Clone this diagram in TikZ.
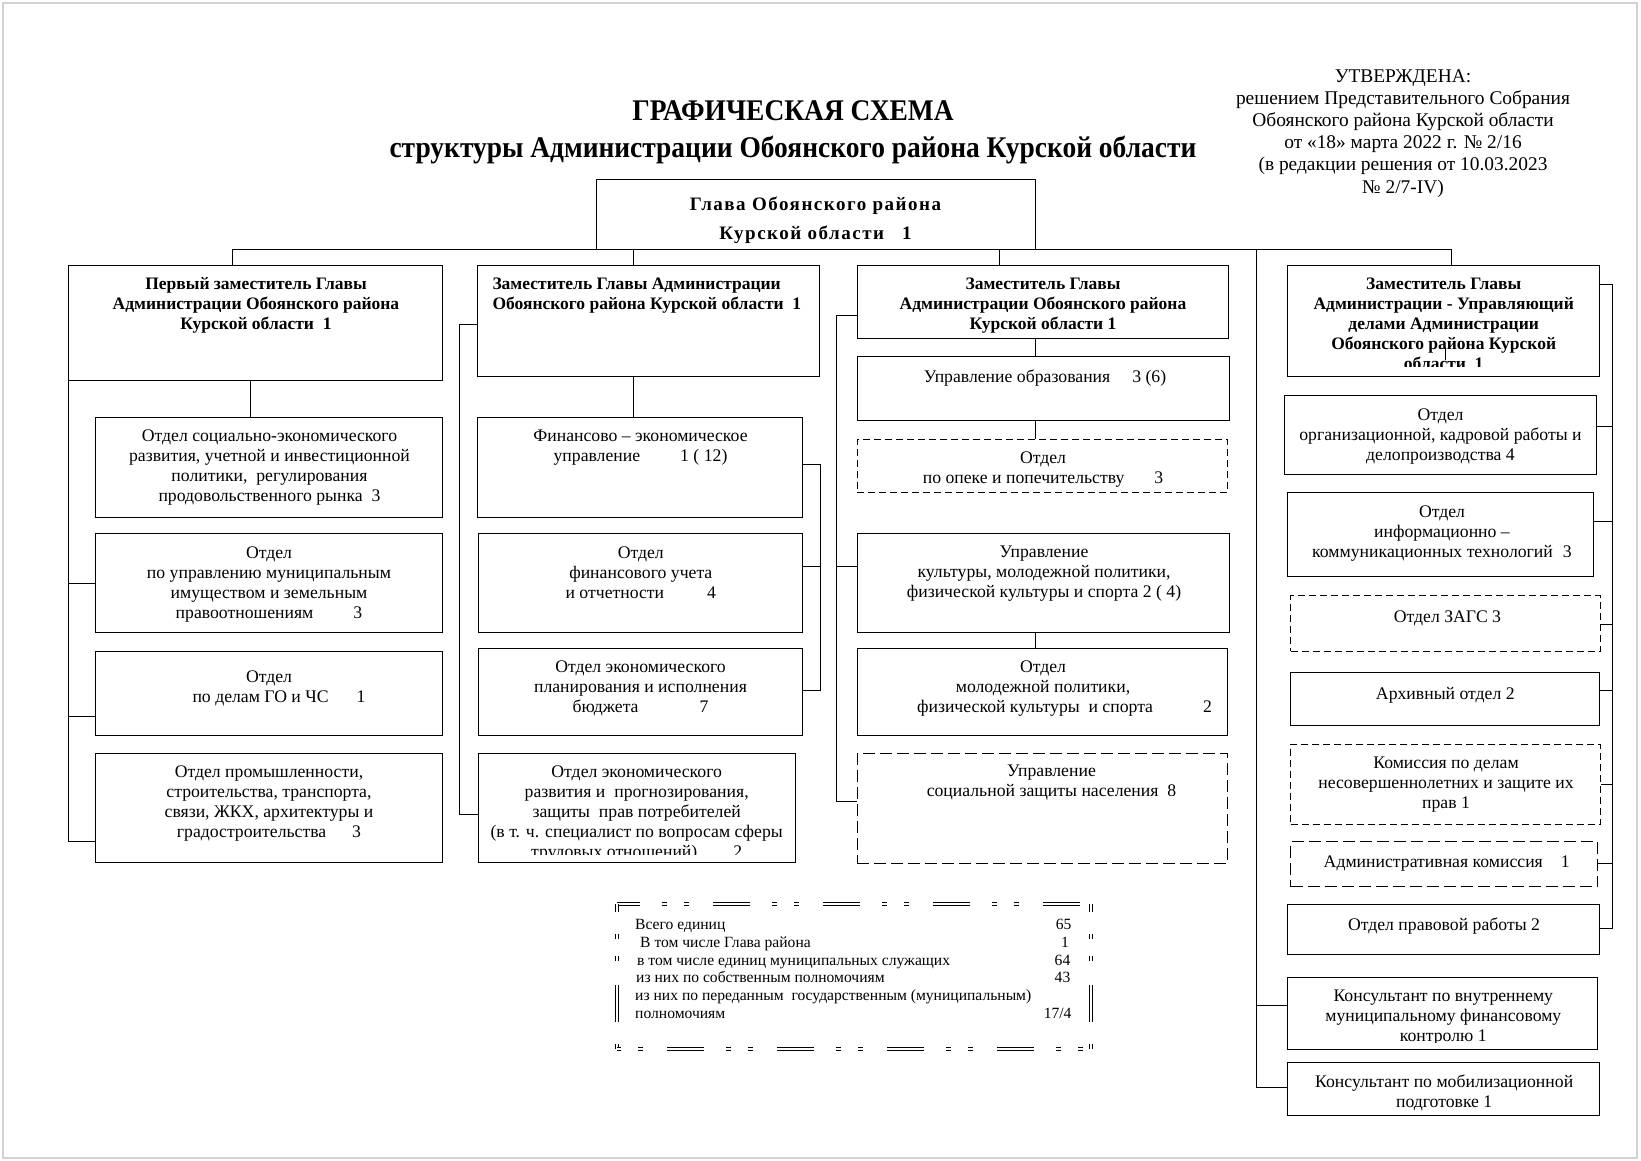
\documentclass[tikz,border=0pt]{standalone}
\usepackage{fontspec}
\usepackage{graphicx}
\setmainfont{Liberation Serif}
\newfontfamily\glavafont[LetterSpace=8]{Liberation Serif}
\newcommand\bx[6][box]{\node[#1,minimum width={#5-#3},minimum height={#6-#4}] (#2) at ({(#3+#5)/2},{(#4+#6)/2}) {};}
\newcommand\tx[5][txt]{\node[#1] (#2) at (#3,{#4-6.5}) {#5};}
\begin{document}
\begin{tikzpicture}[x=1pt,y=-1pt,
  box/.style={draw,line width=1pt,inner sep=0pt,outer sep=0pt},
  dbox/.style={box,dash pattern=on 7pt off 4pt},
  lbox/.style={box,dash pattern=on 12pt off 5pt},
  conn/.style={line width=1pt},
  txt/.style={font=\fontsize{17.7}{20}\selectfont,align=center,inner sep=0pt,anchor=north,execute at begin node=\strut},
  btxt/.style={txt,font=\fontsize{17.5}{20}\selectfont\bfseries},
  ltxt/.style={btxt,align=left,anchor=north west},
  hdr/.style={font=\fontsize{19.4}{22.2}\selectfont,align=center,inner sep=0pt,anchor=north,execute at begin node=\strut},
  sm/.style={font=\fontsize{15.6}{18}\selectfont,inner sep=0pt,anchor=base west},
  smr/.style={sm,anchor=base east},
  sumframe/.style={double,line width=1.1pt,double distance=2pt,dash pattern=on 37pt off 22pt on 5pt off 17pt on 5pt off 24pt}
]
\useasboundingbox (0,0) rectangle (1641,1161);
\draw[gray!35,line width=2pt] (3,3) rectangle (1637,1158);

% titles
\node[font=\fontsize{30}{36}\selectfont\bfseries,inner sep=0pt] (title1) at (793,111) {\scalebox{0.915}[1]{ГРАФИЧЕСКАЯ СХЕМА}};
\node[font=\fontsize{30}{36}\selectfont\bfseries,inner sep=0pt] (title2) at (793,150) {\scalebox{0.915}[1]{структуры Администрации Обоянского района Курской области}};
\node[hdr] (appr) at (1403,69) {УТВЕРЖДЕНА:\\решением Представительного Собрания\\Обоянского района Курской области\\от «18» марта 2022 г. № 2/16\\(в редакции решения от 10.03.2023\\№ 2/7-IV)};

% boxes
\bx{glava}{596}{180}{1035}{249.3}
\bx{b1}{68.3}{265.3}{442.7}{380}
\bx{b2}{477.3}{265.3}{819.3}{376.3}
\bx{b3}{857.3}{265.3}{1228.3}{338.3}
\bx{b4}{1287.3}{265.3}{1599.3}{376.3}
\bx{c11}{95.7}{417.3}{442.7}{517}
\bx{c12}{95.7}{533.3}{442.7}{632}
\bx{c13}{95.7}{651.3}{442.7}{735}
\bx{c14}{95.7}{753.3}{442.7}{862.7}
\bx{c21}{477.3}{417.3}{802.3}{517.3}
\bx{c22}{478.3}{533.3}{802.3}{632}
\bx{c23}{478.3}{648.3}{802.3}{735}
\bx{c24}{478.3}{753.3}{795.3}{862.7}
\bx{c31}{857.3}{356.3}{1229.3}{420}
\bx[dbox]{c32}{857.3}{439.3}{1227.7}{492.3}
\bx{c33}{857.3}{533.3}{1229.3}{632}
\bx{c34}{857.3}{648.3}{1227.7}{735}
\bx[lbox]{c35}{857.3}{753.3}{1227.7}{863.3}
\bx{c41}{1284.3}{395.3}{1596.3}{474}
\bx{c42}{1287.3}{492.3}{1593.3}{576}
\bx[dbox]{c43}{1290.7}{595.7}{1600}{651.3}
\bx{c44}{1290.3}{672.7}{1599.3}{725}
\bx[dbox]{c45}{1290.7}{744.3}{1600.7}{824}
\bx[lbox]{c46}{1290.7}{841.7}{1597.7}{886.7}
\bx{c47}{1287.7}{904.3}{1599.3}{954}
\bx{c48}{1287.3}{977.3}{1597.7}{1049}
\bx{c49}{1287.3}{1062.3}{1599.3}{1115}

% texts
\node[font=\glavafont\fontsize{19}{29.5}\selectfont\bfseries,align=center,inner sep=0pt,anchor=north,execute at begin node=\strut] (tglava) at (815.5,{202.7-6.5}) {Глава Обоянского района\\Курской области\hspace{18pt}1};
\tx[btxt]{t1}{256}{284}{Первый заместитель Главы\\Администрации Обоянского района\\Курской области~~1}
\tx[ltxt]{t2}{492.3}{284}{Заместитель Главы Администрации\\Обоянского района Курской области~~1}
\tx[btxt]{t3}{1043}{284}{Заместитель Главы\\Администрации Обоянского района\\Курской области 1}
\begin{scope}
\clip (1287.3,265.3) rectangle (1599.3,366);
\tx[btxt]{t4}{1443.7}{284}{Заместитель Главы\\Администрации - Управляющий\\делами Администрации\\Обоянского района Курской\\области~~1}
\end{scope}
\tx{t11}{269.5}{436}{Отдел социально-экономического\\развития, учетной и инвестиционной\\политики,~~регулирования\\продовольственного рынка~~3}
\tx{t12}{269}{552.7}{Отдел\\по управлению муниципальным\\имуществом и земельным\\правоотношениям\hspace{40pt}3}
\tx{t13}{269}{676.7}{Отдел\\\hspace*{20pt}по делам ГО и ЧС\hspace{28pt}1}
\tx{t14}{269}{771.7}{Отдел промышленности,\\строительства, транспорта,\\связи, ЖКХ, архитектуры и\\градостроительства\hspace{26pt}3}
\tx{t21}{640.5}{436}{Финансово – экономическое\\управление\hspace{40pt}1 ( 12)}
\tx{t22}{640.8}{552.7}{Отдел\\финансового учета\\и отчетности\hspace{43pt}4}
\tx{t23}{640.5}{666.7}{Отдел экономического\\планирования и исполнения\\бюджета\hspace{61pt}7}
\begin{scope}
\clip (478.3,753.3) rectangle (795.3,854);
\tx{t24}{636.7}{771.7}{Отдел экономического\\развития и~~прогнозирования,\\защиты~~прав потребителей\\(в т. ч. специалист по вопросам сферы\\трудовых отношений)\hspace{36pt}2}
\end{scope}
\tx{t31}{1045}{375}{Управление образования\hspace{22pt}3 (6)}
\tx{t32}{1043}{457.7}{Отдел\\по опеке и попечительству\hspace{30pt}3}
\tx{t33}{1044}{552.7}{Управление\\культуры, молодежной политики,\\физической культуры и спорта 2 ( 4)}
\tx{t34}{1043}{666.7}{Отдел\\молодежной политики,\\\hspace*{43pt}физической культуры~~и спорта\hspace{50pt}2}
\tx{t35}{1051.5}{771.7}{Управление\\социальной защиты населения~~8}
\tx{t41}{1440.5}{415}{Отдел\\организационной, кадровой работы и\\делопроизводства 4}
\tx{t42}{1442}{511.7}{Отдел\\информационно –\\коммуникационных технологий\hspace{10pt}3}
\tx{t43}{1447.5}{615}{Отдел ЗАГС 3}
\tx{t44}{1445.3}{691.7}{Архивный отдел 2}
\tx{t45}{1446}{763.3}{Комиссия по делам\\несовершеннолетних и защите их\\прав 1}
\tx{t46}{1446.7}{860}{Административная комиссия\hspace{18pt}1}
\tx{t47}{1444}{922.7}{Отдел правовой работы 2}
\begin{scope}
\clip (1287.3,977.3) rectangle (1597.7,1042);
\tx{t48}{1443.3}{996.7}{Консультант по внутреннему\\муниципальному финансовому\\контролю 1}
\end{scope}
\tx{t49}{1444.2}{1081}{Консультант по мобилизационной\\подготовке 1}

% connectors
\coordinate (busL) at (232,249.3);
\coordinate (busR) at (1451.3,249.3);
\coordinate (bus2) at (633.3,249.3);
\coordinate (bus3) at (999.3,249.3);
\coordinate (bus4) at (1256,249.3);
\draw[conn] (busL) -- (busR);
\draw[conn] (busL) -- (busL |- b1.north);
\draw[conn] (bus2) -- (bus2 |- b2.north);
\draw[conn] (bus3) -- (bus3 |- b3.north);
\draw[conn] (busR) -- (busR |- b4.north);
% column 1
\coordinate (v1) at (250.3,380);
\draw[conn] (v1 |- b1.south) -- (v1 |- c11.north);
\coordinate (s1a) at (68.3,583);
\coordinate (s1b) at (68.3,716.3);
\coordinate (s1c) at (68.3,841);
\draw[conn] (b1.south west) -- (s1c) -- (s1c -| c14.west);
\draw[conn] (s1a) -- (s1a -| c12.west);
\draw[conn] (s1b) -- (s1b -| c13.west);
% column 2
\coordinate (v2) at (633.3,380);
\draw[conn] (v2 |- b2.south) -- (v2 |- c21.north);
\coordinate (s2t) at (459.3,324.3);
\coordinate (s2b) at (459.3,814);
\draw[conn] (s2t -| b2.west) -- (s2t) -- (s2b) -- (s2b -| c24.west);
\coordinate (f1) at (820,464);
\coordinate (f2) at (820,566.7);
\coordinate (f3) at (820,690);
\draw[conn] (f1 -| c21.east) -- (f1) -- (f3) -- (f3 -| c23.east);
\draw[conn] (f2) -- (f2 -| c22.east);
% column 3
\coordinate (s3t) at (836,315.7);
\coordinate (s3m) at (836,566.7);
\coordinate (s3b) at (836,801);
\draw[conn] (s3t -| b3.west) -- (s3t) -- (s3b) -- (s3b -| c35.west);
\draw[conn] (s3m) -- (s3m -| c33.west);
\coordinate (v3) at (1035,340);
\draw[conn] (v3 |- b3.south) -- (v3 |- c31.north);
\draw[conn] (v3 |- c31.south) -- (v3 |- c32.north);
\draw[conn] (v3 |- c33.south) -- (v3 |- c34.north);
% column 4
\coordinate (k1) at (1256,1005);
\coordinate (k2) at (1256,1087.3);
\draw[conn] (bus4) -- (k2) -- (k2 -| c49.west);
\draw[conn] (k1) -- (k1 -| c48.west);
\coordinate (r0) at (1612.7,284.3);
\coordinate (r1) at (1612.7,426.7);
\coordinate (r2) at (1612.7,521.7);
\coordinate (r3) at (1612.7,624.3);
\coordinate (r4) at (1612.7,690);
\coordinate (r5) at (1612.7,784.3);
\coordinate (r6) at (1612.7,863.3);
\coordinate (r7) at (1612.7,928.3);
\draw[conn] (r0 -| b4.east) -- (r0) -- (r7) -- (r7 -| c47.east);
\draw[conn] (r1) -- (r1 -| c41.east);
\draw[conn] (r2) -- (r2 -| c42.east);
\draw[conn] (r3) -- (r3 -| c43.east);
\draw[conn] (r4) -- (r4 -| c44.east);
\draw[conn] (r5) -- (r5 -| c45.east);
\draw[conn] (r6) -- (r6 -| c46.east);
\coordinate (st1) at (1445,346.7);
\coordinate (st2) at (1445,360);
\draw[conn] (st1) -- (st2);

% summary frame
\coordinate (fa) at (617,904);
\coordinate (fb) at (1091,904);
\coordinate (fc) at (1091,1049);
\coordinate (fd) at (617,1049);
\draw[sumframe,dash phase=14pt] (fa) -- (fb);
\draw[sumframe,dash phase=29pt] (fb) -- (fc);
\draw[sumframe,dash phase=29pt] (fa) -- (fd);
\draw[sumframe,dash phase=60pt] (fd) -- (fc);
\node[sm] (s1) at (635,929) {Всего единиц};
\node[smr] (n1) at (1071.7,929) {65};
\node[sm] (s2) at (640,947) {В том числе Глава района};
\node[smr] (n2) at (1069,947) {1};
\node[sm] (s3) at (637,965) {в том числе единиц муниципальных служащих};
\node[smr] (n3) at (1070.5,965) {64};
\node[sm] (s4) at (636,982.5) {из них по собственным полномочиям};
\node[smr] (n4) at (1070.5,982.5) {43};
\node[sm] (s5) at (635,1000) {из них по переданным~~государственным (муниципальным)};
\node[sm] (s6) at (635,1018) {полномочиям};
\node[smr] (n6) at (1071.7,1018) {17/4};
\end{tikzpicture}
\end{document}
